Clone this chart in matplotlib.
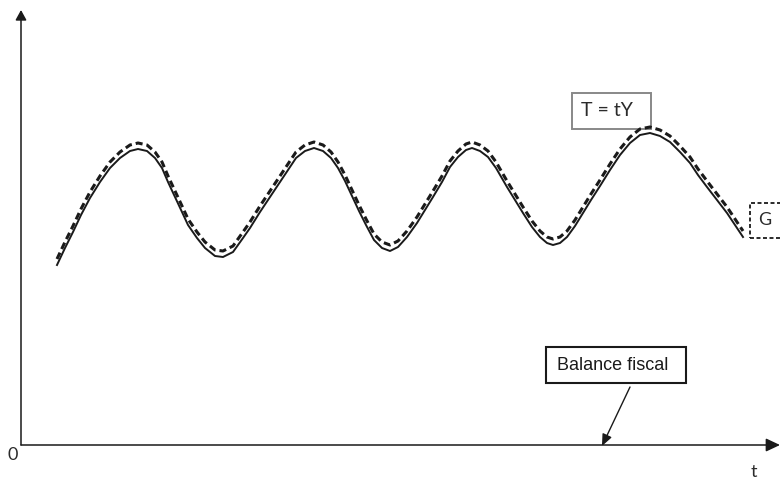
import matplotlib
matplotlib.use('Agg')
import matplotlib.pyplot as plt
from matplotlib.patches import Rectangle

# time axis (origin at the corner of the axes)
t_vals = [36, 44, 52, 60, 69, 79, 89, 99, 109, 117,
          126, 134, 141, 147, 154, 161, 167, 176, 184, 194,
          202, 212, 222, 229, 239, 249, 259, 267, 275, 284,
          293, 302, 310, 317, 324, 331, 338, 345, 353, 361,
          369, 377, 386, 396, 404, 412, 421, 429, 437, 445,
          451, 459, 467, 475, 486, 494, 502, 511, 519, 526,
          532, 539, 546, 554, 562, 570, 579, 589, 599, 609,
          619, 629, 639, 649, 659, 669, 677, 686, 696, 706,
          714, 722]

# taxes T = tY (solid)
tax_vals = [180, 197, 213, 230, 247, 263, 277, 287, 294, 296,
            294, 287, 277, 263, 248, 233, 220, 207, 197, 189,
            188, 193, 207, 217, 233, 248, 263, 275, 287, 294,
            297, 294, 287, 277, 264, 249, 234, 220, 205, 197,
            194, 198, 208, 222, 235, 248, 263, 278, 288, 295,
            297, 294, 288, 277, 258, 245, 232, 218, 208, 202,
            200, 202, 208, 219, 232, 245, 259, 275, 290, 302,
            310, 312, 309, 303, 293, 282, 270, 258, 245, 232,
            220, 208]

# government spending G (dashed)
gov_vals = [186, 203, 219, 236, 253, 269, 283, 293, 300, 302,
            300, 293, 283, 269, 254, 239, 226, 213, 203, 195,
            194, 199, 213, 223, 239, 254, 269, 281, 293, 300,
            303, 300, 293, 283, 270, 255, 240, 226, 211, 203,
            200, 204, 214, 228, 241, 254, 269, 284, 294, 301,
            303, 300, 294, 283, 264, 251, 238, 224, 214, 208,
            206, 208, 214, 225, 238, 251, 265, 281, 296, 308,
            316, 318, 315, 309, 299, 288, 276, 264, 251, 238,
            226, 214]

ink = '#1a1a1a'
txt = '#2b2b2b'
label_font = ['Lato', 'DejaVu Sans']
narrow_font = ['Liberation Sans Narrow', 'Liberation Sans', 'DejaVu Sans']

fig = plt.figure(figsize=(7.8, 4.8), dpi=100)
ax = fig.add_axes([21 / 780, 35 / 480, 759 / 780, 435 / 480])
ax.set_xlim(0, 759)
ax.set_ylim(0, 435)
ax.axis('off')

# axes with arrow heads
ax.annotate('', xy=(1, 0), xytext=(0, 0), xycoords='axes fraction',
            arrowprops=dict(arrowstyle='-|>,head_length=0.85,head_width=0.4',
                            color=ink, lw=1.1, shrinkA=0, shrinkB=0))
ax.annotate('', xy=(0, 1), xytext=(0, 0), xycoords='axes fraction',
            arrowprops=dict(arrowstyle='-|>,head_length=0.6,head_width=0.33',
                            color=ink, lw=1.1, shrinkA=0, shrinkB=0))

# curves
ax.plot(t_vals, tax_vals, color=ink, lw=1.4, solid_joinstyle='round')
ax.plot(t_vals, gov_vals, color=ink, lw=2.2, dashes=(2.3, 1.3))

# label boxes
ax.add_patch(Rectangle((551, 316), 79, 36, fill=False, edgecolor='#888888', lw=1.4))
ax.text(560, 334, 'T = tY', fontsize=14, family=label_font,
        color=txt, ha='left', va='center')

ax.add_patch(Rectangle((729, 207), 40, 35, fill=False, edgecolor=ink, lw=1.3,
                       linestyle=(0, (2.2, 1.4)), clip_on=False))
ax.text(737, 225, 'G', fontsize=13, family=label_font,
        color=txt, ha='left', va='center')

ax.add_patch(Rectangle((525, 62), 140, 36, fill=False, edgecolor=ink, lw=1.5))
ax.text(592, 80, 'Balance fiscal', fontsize=13, family=narrow_font,
        color=ink, ha='center', va='center')
ax.annotate('', xy=(581, -1), xytext=(609, 58), xycoords='data',
            arrowprops=dict(arrowstyle='-|>,head_length=0.7,head_width=0.3',
                            color=ink, lw=1.0, shrinkA=0, shrinkB=0),
            annotation_clip=False)

ax.text(-8, -10, '0', fontsize=13, family=label_font,
        color=txt, ha='center', va='center')
ax.text(733, -27, 't', fontsize=13, family=label_font,
        color=txt, ha='center', va='center')

fig.savefig('out.png', dpi=100)
